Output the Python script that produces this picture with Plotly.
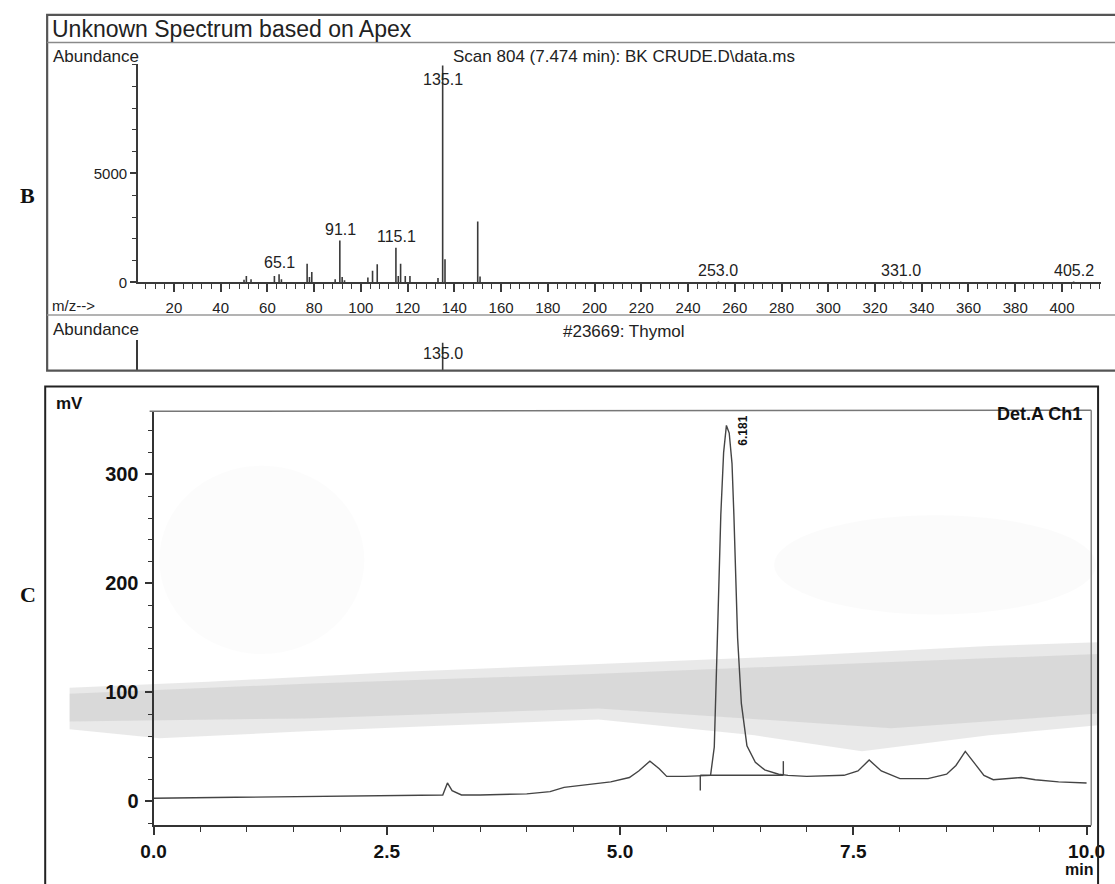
import plotly.graph_objects as go

W, H = 1115, 884

# ---------------- data: mass spectrum (panel B) ----------------
ms_mz = [50, 51, 53, 63, 65, 66, 77, 78, 79, 89, 91, 92, 93, 103, 105, 107,
         115, 116, 117, 119, 121, 133, 135, 136, 150, 151, 253, 331, 405]
ms_ab = [120, 300, 150, 300, 380, 150, 860, 250, 480, 150, 1920, 250, 100, 230, 530, 830,
         1590, 300, 860, 300, 300, 200, 9950, 1060, 2800, 270, 40, 40, 40]
ms_label_mz = [65.1, 91.1, 115.1, 135.1, 253.0, 331.0, 405.2]
ms_label_ab = [380, 1920, 1590, 9950, 40, 40, 40]
ms_xticks = list(range(20, 401, 20))

# library hit (Thymol)
lib_mz = [91, 115, 135, 150]
lib_ab = [2000, 1500, 9999, 3000]

# ---------------- data: chromatogram (panel C) ----------------
chrom_t = [0.0, 1.0, 2.0, 3.0, 3.1, 3.15, 3.2, 3.3, 3.5, 4.0, 4.25, 4.4, 4.6, 4.9, 5.1, 5.2,
           5.32, 5.42, 5.5, 5.7, 5.97, 6.01, 6.04, 6.08, 6.11, 6.14, 6.17, 6.2, 6.22, 6.26,
           6.3, 6.36, 6.45, 6.55, 6.7, 6.8, 7.0, 7.4, 7.55, 7.67, 7.8, 8.0, 8.3, 8.5, 8.6,
           8.7, 8.8, 8.9, 9.0, 9.2, 9.3, 9.45, 9.7, 10.0]
chrom_mv = [3, 4, 5, 6, 6, 17, 10, 6, 6, 7, 9, 13, 15, 18, 22, 28,
            37, 30, 23, 23, 24, 50, 140, 263, 320, 345, 338, 310, 263, 150,
            90, 51, 36, 29, 25, 24, 23, 24, 28, 38, 28, 21, 21, 25, 33,
            46, 35, 24, 20, 21, 22, 20, 18, 17]
peak_rt = 6.181
peak_mv = 345
int_start, int_end, int_base = 5.86, 6.75, 24
chrom_xticks = [0.0, 2.5, 5.0, 7.5, 10.0]
chrom_xtext = ["0.0", "2.5", "5.0", "7.5", "10.0"]
chrom_yticks = [0, 100, 200, 300]


def fx(p):
    return p / W


def fy(p):
    return 1 - p / H


def stems(xs, ys):
    sx, sy = [], []
    for x, y in zip(xs, ys):
        sx += [x, x, None]
        sy += [0, y, None]
    return sx, sy


fig = go.Figure()

LINE = "#3a3a3a"
FONT = "Liberation Sans, Arial, sans-serif"

sx, sy = stems(ms_mz, ms_ab)
fig.add_trace(go.Scatter(x=sx, y=sy, mode="lines", line=dict(color=LINE, width=1.6),
                         xaxis="x", yaxis="y", hoverinfo="skip", showlegend=False))
lx, ly = stems(lib_mz, lib_ab)
fig.add_trace(go.Scatter(x=lx, y=ly, mode="lines", line=dict(color=LINE, width=1.6),
                         xaxis="x2", yaxis="y2", hoverinfo="skip", showlegend=False))
fig.add_trace(go.Scatter(x=chrom_t, y=chrom_mv, mode="lines",
                         line=dict(color="#444444", width=1.4),
                         xaxis="x3", yaxis="y3", hoverinfo="skip", showlegend=False))
fig.add_trace(go.Scatter(x=[int_start, int_end, None, int_start, int_start, None, int_end, int_end],
                         y=[int_base, int_base, None, int_base - 14, int_base, None, int_base, int_base + 13],
                         mode="lines", line=dict(color="#444444", width=1.4),
                         xaxis="x3", yaxis="y3", hoverinfo="skip", showlegend=False))

ms_range = [(128 - 117) / 2.395, (W - 117) / 2.395]

layout = dict(
    width=W, height=H, autosize=False,
    margin=dict(l=0, r=0, t=0, b=0),
    paper_bgcolor="white", plot_bgcolor="rgba(0,0,0,0)",
    font=dict(family=FONT, color="#222"),
    showlegend=False,
    xaxis=dict(domain=[fx(128), 1.0], range=ms_range, anchor="y",
               showline=True, linecolor=LINE, linewidth=1.5, showgrid=False, zeroline=False,
               ticks="outside", ticklen=8, tickwidth=1.5, tickcolor=LINE,
               tickvals=ms_xticks, tickfont=dict(size=15, family=FONT, color="#222"),
               ticklabelstandoff=3, ticklabeloverflow="allow",
               minor=dict(dtick=4, tick0=0, ticks="outside", ticklen=5, tickwidth=1.3,
                          tickcolor=LINE, showgrid=False)),
    yaxis=dict(domain=[fy(285), fy(65)], range=[0, 10000], anchor="x",
               showline=True, linecolor=LINE, linewidth=1.5, showgrid=False, zeroline=False,
               ticks="outside", ticklen=6, tickwidth=1.5, tickcolor=LINE,
               tickvals=[0, 5000], tickfont=dict(size=15, family=FONT, color="#222"),
               minor=dict(dtick=1000, ticks="outside", ticklen=4, tickwidth=1.2,
                          tickcolor=LINE, showgrid=False)),
    xaxis2=dict(domain=[fx(128), 1.0], range=ms_range, anchor="y2",
                showline=False, showgrid=False, zeroline=False, showticklabels=False, ticks=""),
    yaxis2=dict(domain=[fy(374), fy(343)], range=[7000, 10300], anchor="x2",
                showline=True, linecolor=LINE, linewidth=1.5, showgrid=False, zeroline=False,
                showticklabels=False, ticks=""),
    xaxis3=dict(domain=[fx(144), fx(1105)], range=[0, 10.05], anchor="y3",
                showline=True, linecolor="#333", linewidth=2, showgrid=False, zeroline=False,
                ticks="outside", ticklen=8, tickwidth=1.5, tickcolor="#333",
                tickvals=chrom_xticks, ticktext=chrom_xtext,
                tickfont=dict(size=19, family=FONT, color="#111", weight="bold"),
                ticklabelstandoff=0, ticklabeloverflow="allow",
                minor=dict(dtick=0.5, tick0=0, ticks="outside", ticklen=5, tickwidth=1.3,
                           tickcolor="#333", showgrid=False)),
    yaxis3=dict(domain=[fy(833), fy(415)], range=[-22, 358], anchor="x3",
                showline=True, linecolor="#333", linewidth=2, showgrid=False, zeroline=False,
                ticks="outside", ticklen=7, tickwidth=1.5, tickcolor="#333",
                tickvals=chrom_yticks, tickfont=dict(size=20, family=FONT, color="#111", weight="bold"),
                ticklabelstandoff=2,
                minor=dict(dtick=20, ticks="outside", ticklen=4, tickwidth=1.2,
                           tickcolor="#333", showgrid=False)),
)
fig.update_layout(**layout)


def P(pts):
    return "M " + " L ".join(f"{fx(x):.5f},{fy(y):.5f}" for x, y in pts) + " Z"


shapes = []
# scanned-paper shading in panel C (decoration only)
shapes.append(dict(type="circle", xref="paper", yref="paper", layer="below",
                   x0=fx(150), x1=fx(360), y0=fy(660), y1=fy(470),
                   fillcolor="rgba(120,120,120,0.025)", line=dict(width=0)))
shapes.append(dict(type="circle", xref="paper", yref="paper", layer="below",
                   x0=fx(780), x1=fx(1110), y0=fy(620), y1=fy(520),
                   fillcolor="rgba(120,120,120,0.03)", line=dict(width=0)))
shapes.append(dict(type="path", xref="paper", yref="paper", layer="below",
                   path=P([(58, 694), (200, 688), (400, 678), (600, 670), (800, 662), (1000, 652),
                           (1112, 648), (1112, 732), (1000, 742), (870, 758), (760, 742), (600, 726),
                           (450, 732), (300, 738), (150, 745), (58, 736)]),
                   fillcolor="rgba(110,110,110,0.15)", line=dict(width=0)))
shapes.append(dict(type="path", xref="paper", yref="paper", layer="below",
                   path=P([(58, 700), (300, 690), (600, 680), (900, 668), (1112, 660), (1112, 720),
                           (900, 735), (600, 715), (300, 725), (58, 728)]),
                   fillcolor="rgba(110,110,110,0.12)", line=dict(width=0)))
# panel B frame
shapes.append(dict(type="rect", xref="paper", yref="paper", x0=fx(35), x1=1.02, y0=fy(374), y1=fy(15),
                   line=dict(color="#555", width=2.2)))
shapes.append(dict(type="line", xref="paper", yref="paper", x0=fx(35), x1=1.02, y0=fy(43), y1=fy(43),
                   line=dict(color="#8a8a8a", width=1.5)))
shapes.append(dict(type="line", xref="paper", yref="paper", x0=fx(35), x1=1.02, y0=fy(318), y1=fy(318),
                   line=dict(color="#9a9a9a", width=1.5)))
# panel C frame
shapes.append(dict(type="rect", xref="paper", yref="paper", x0=fx(33), x1=fx(1112), y0=-0.05, y1=fy(390),
                   line=dict(color="#222", width=2)))
# chromatogram plot frame (top & right)
shapes.append(dict(type="line", xref="paper", yref="paper", x0=fx(140), x1=fx(1105), y0=fy(415), y1=fy(414),
                   line=dict(color="#777", width=1.5)))
shapes.append(dict(type="line", xref="paper", yref="paper", x0=fx(1105), x1=fx(1105), y0=fy(414), y1=fy(833),
                   line=dict(color="#888", width=1.5)))
fig.update_layout(shapes=shapes)

ann = []


def txt(x, y, s, size, xanchor="left", bold=False, family=FONT, color="#222", **kw):
    ann.append(dict(xref="paper", yref="paper", x=fx(x), y=fy(y), text=s, showarrow=False,
                    xanchor=xanchor, yanchor="middle",
                    font=dict(size=size, family=family, color=color, weight="bold" if bold else "normal"),
                    **kw))


txt(38, 29, "Unknown Spectrum based on Apex", 23)
txt(39, 57, "Abundance", 17)
txt(626, 57, "Scan 804 (7.474 min): BK CRUDE.D\\data.ms", 17, xanchor="center")
txt(38, 308, "m/z-->", 15)
txt(39, 333, "Abundance", 17)
txt(626, 335, "#23669: Thymol", 17, xanchor="center")
txt(15, 197, "B", 22, xanchor="center", bold=True, family="Liberation Serif, Times New Roman, serif", color="#111")
txt(15, 600, "C", 22, xanchor="center", bold=True, family="Liberation Serif, Times New Roman, serif", color="#111")
txt(42, 407, "mV", 17, bold=True, color="#111")
txt(1098, 418, "Det.A Ch1", 18, xanchor="right", bold=True, color="#111")
txt(1109, 877, "min", 16, xanchor="right", bold=True, color="#111")

for m, a in zip(ms_label_mz, ms_label_ab):
    if a >= 9000:
        ann.append(dict(xref="x", yref="y", x=m, y=a, text=f"{m:.1f}", showarrow=False,
                        xanchor="center", yanchor="top", yshift=-3,
                        font=dict(size=16, family=FONT, color="#222")))
    else:
        ann.append(dict(xref="x", yref="y", x=m, y=a, text=f"{m:.1f}", showarrow=False,
                        xanchor="center", yanchor="bottom", yshift=1,
                        font=dict(size=16, family=FONT, color="#222")))
ann.append(dict(xref="x2", yref="paper", x=135.0, y=fy(357), text="135.0", showarrow=False,
                xanchor="center", yanchor="middle", font=dict(size=16, family=FONT, color="#222")))
ann.append(dict(xref="x3", yref="y3", x=peak_rt, y=peak_mv, text=f"{peak_rt:.3f}", showarrow=False,
                textangle=-90, xanchor="left", yanchor="middle", xshift=4, yshift=-5,
                font=dict(size=12, family=FONT, color="#111", weight="bold")))
fig.update_layout(annotations=ann)

fig.write_html("out.html", config={"displayModeBar": False},
               post_script="document.body.style.margin='0';document.body.style.padding='0';"
                           "document.documentElement.style.overflow='hidden';")
